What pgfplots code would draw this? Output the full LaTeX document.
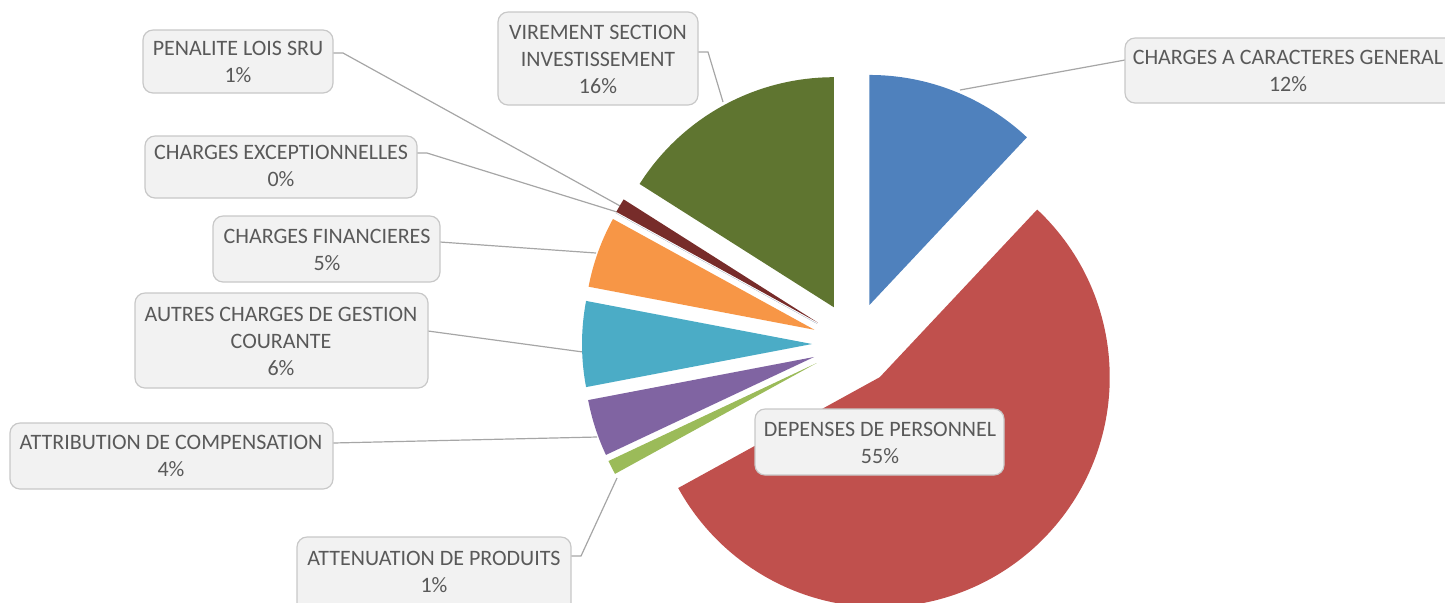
\documentclass[border=0pt]{standalone}
\usepackage{pgfplots}
\pgfplotsset{compat=1.18}
\usepackage{fontspec}
\setmainfont{Carlito}
\definecolor{cblue}{HTML}{4F81BD}
\definecolor{cred}{HTML}{C0504D}
\definecolor{cgreen}{HTML}{9BBB59}
\definecolor{cpurple}{HTML}{8064A2}
\definecolor{cteal}{HTML}{4BACC6}
\definecolor{corange}{HTML}{F79646}
\definecolor{cdblue}{HTML}{2C4D75}
\definecolor{cdred}{HTML}{772C2A}
\definecolor{colive}{HTML}{5F7530}
\definecolor{txt}{HTML}{595959}
\definecolor{boxfill}{HTML}{F2F2F2}
\definecolor{boxdraw}{HTML}{C8C8C8}
\definecolor{lead}{HTML}{A6A6A6}
% pie geometry in pixel units of the axis (1 px = 0.5pt)
\def\cx{854}\def\cy{344}\def\dd{42}\def\rr{115pt}
\gdef\cum{0}
\newcommand\slice[2]{%
 \pgfmathsetmacro\sa{90-3.6*\cum}%
 \pgfmathsetmacro\ea{90-3.6*(\cum+#1)}%
 \pgfmathsetmacro\ma{(\sa+\ea)/2}%
 \pgfmathsetmacro\ox{\cx+\dd*cos(\ma)}%
 \pgfmathsetmacro\oy{\cy-\dd*sin(\ma)}%
 \edef\tmp{\noexpand\fill[#2] (axis cs:\ox,\oy) -- ++(\sa:\rr) arc[start angle=\sa,end angle=\ea,radius=\rr] -- cycle;}%
 \tmp
 \pgfmathsetmacro\newcum{\cum+#1}\xdef\cum{\newcum}%
}
\newcommand\lab[7]{%
 \draw[boxdraw, fill=boxfill, rounded corners=5pt, line width=0.6pt] (axis cs:#1,#2) rectangle (axis cs:#3,#4);
 \node[text=txt, align=center, font=\fontsize{11}{13.5}\selectfont] at (axis cs:#5,#6) {#7};
}
\begin{document}
\begin{tikzpicture}
\begin{axis}[width=722.5pt, height=301pt, scale only axis,
  xmin=0, xmax=1445, ymin=0, ymax=602, y dir=reverse, hide axis]
% leader lines
\draw[lead, line width=0.6pt] (axis cs:1125,60) -- (axis cs:960,90);
\draw[lead, line width=0.6pt] (axis cs:698,52) -- (axis cs:708,52) -- (axis cs:723,102);
\draw[lead, line width=0.6pt] (axis cs:333,53) -- (axis cs:343,53) -- (axis cs:622,207);
\draw[lead, line width=0.6pt] (axis cs:417,153) -- (axis cs:427,153) -- (axis cs:617,212);
\draw[lead, line width=0.6pt] (axis cs:440,242) -- (axis cs:596,253);
\draw[lead, line width=0.6pt] (axis cs:428,331) -- (axis cs:583,352);
\draw[lead, line width=0.6pt] (axis cs:333,443) -- (axis cs:597,437);
\draw[lead, line width=0.6pt] (axis cs:571,556) -- (axis cs:581,556) -- (axis cs:617,478);
% slices: percentage / colour
\slice{12}{cblue}
\slice{55}{cred}
\slice{1}{cgreen}
\slice{4}{cpurple}
\slice{6}{cteal}
\slice{5}{corange}
\slice{0}{cdblue}
\slice{1}{cdred}
\slice{16}{colive}
% labels
\lab{1125}{38}{1470}{103}{1288}{70.5}{CHARGES A CARACTERES GENERAL\\12\%}
\lab{498}{12}{698}{105}{598}{59}{VIREMENT SECTION\\INVESTISSEMENT\\16\%}
\lab{143}{30}{333}{93}{238}{62}{PENALITE LOIS SRU\\1\%}
\lab{145}{136}{417}{198}{281}{166}{CHARGES EXCEPTIONNELLES\\0\%}
\lab{213}{216}{440}{282}{327}{250}{CHARGES FINANCIERES\\5\%}
\lab{135}{293}{428}{388}{281}{341}{AUTRES CHARGES DE GESTION\\COURANTE\\6\%}
\lab{10}{423}{333}{489}{171}{456}{ATTRIBUTION DE COMPENSATION\\4\%}
\lab{297}{537}{571}{620}{434}{572}{ATTENUATION DE PRODUITS\\1\%}
\lab{755}{409}{1004}{475}{880}{443}{DEPENSES DE PERSONNEL\\55\%}
\end{axis}
\pgfresetboundingbox
\path (current axis.south west) rectangle (current axis.north east);
\end{tikzpicture}
\end{document}
